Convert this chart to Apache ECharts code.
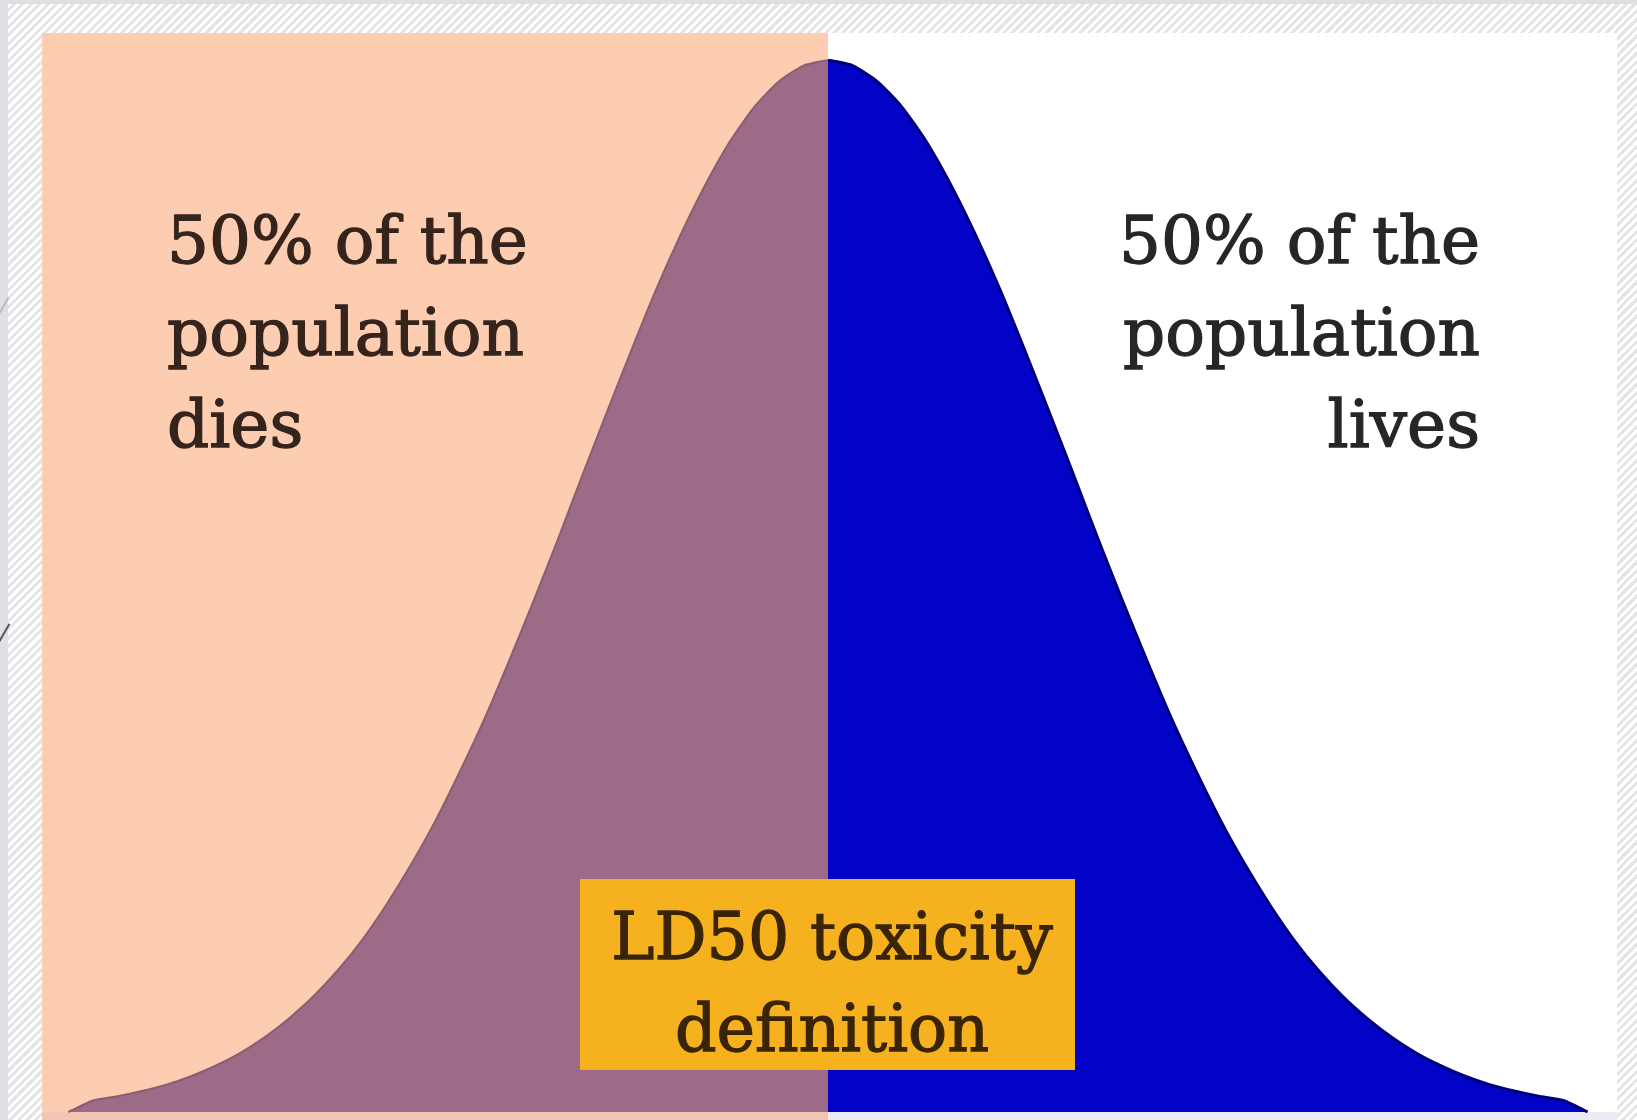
<!DOCTYPE html>
<html>
<head>
<meta charset="utf-8">
<title>LD50 toxicity definition</title>
<script src="https://cdn.jsdelivr.net/npm/echarts@6/dist/echarts.min.js"></script>
<style>
  html, body { margin: 0; padding: 0; width: 1637px; height: 1120px; overflow: hidden; background: #dfe0e4; }
  #frame {
    position: absolute; left: 8px; top: 4px; right: 0; bottom: 0;
    background: repeating-linear-gradient(135deg, #ffffff 0 3px, #e5e5e8 3px 6px);
  }
  #panel { position: absolute; left: 42px; top: 33px; width: 1575px; height: 1087px; background: #ffffff; }
  #strip-left { position: absolute; left: 42px; top: 1112px; width: 786px; height: 8px; background: #f2c4b4; }
  #strip-right { position: absolute; left: 828px; top: 1112px; width: 789px; height: 8px; background: #ecebf6; }
  #chart { position: absolute; left: 0; top: 0; width: 1637px; height: 1120px; }
  .slash { position: absolute; left: 0; width: 2px; background: #b9bbc2; transform: rotate(30deg); }
</style>
</head>
<body>
<div id="frame"></div>
<div id="panel"></div>
<div id="strip-left"></div>
<div id="strip-right"></div>
<div class="slash" style="top:296px;height:22px;left:2px;"></div>
<div class="slash" style="top:622px;height:26px;left:2px;background:#555860;"></div>
<div id="chart"></div>
<script>
// Dose in standard deviations from the LD50 point (x = 0)
const dosePositions = [
  -3.1, -3.0, -2.9, -2.8, -2.7, -2.6, -2.5, -2.4, -2.3, -2.2, -2.1,
  -2.0, -1.9, -1.8, -1.7, -1.6, -1.5, -1.4, -1.3, -1.2, -1.1,
  -1.0, -0.9, -0.8, -0.7, -0.6, -0.5, -0.4, -0.3, -0.2, -0.1,
  0.0,
  0.1, 0.2, 0.3, 0.4, 0.5, 0.6, 0.7, 0.8, 0.9, 1.0,
  1.1, 1.2, 1.3, 1.4, 1.5, 1.6, 1.7, 1.8, 1.9, 2.0,
  2.1, 2.2, 2.3, 2.4, 2.5, 2.6, 2.7, 2.8, 2.9, 3.0, 3.1
];
// Relative share of the population responding at each dose (peak = 1)
const responseHeights = [
  0.000, 0.011, 0.015, 0.020, 0.026, 0.034, 0.044, 0.056, 0.071, 0.089, 0.110,
  0.135, 0.164, 0.198, 0.236, 0.278, 0.325, 0.375, 0.430, 0.487, 0.546,
  0.607, 0.667, 0.726, 0.783, 0.835, 0.882, 0.923, 0.956, 0.980, 0.995,
  1.000,
  0.995, 0.980, 0.956, 0.923, 0.882, 0.835, 0.783, 0.726, 0.667, 0.607,
  0.546, 0.487, 0.430, 0.375, 0.325, 0.278, 0.236, 0.198, 0.164, 0.135,
  0.110, 0.089, 0.071, 0.056, 0.044, 0.034, 0.026, 0.020, 0.015, 0.011, 0.000
];
const ld50Dose = 0;
const doseMin = -3.208;
const doseMax = 3.22;
const heightMax = 1.026;
const diesLines = ['50% of the', 'population', 'dies'];
const livesLines = ['50% of the', 'population', 'lives'];
const boxLines = ['LD50 toxicity', 'definition'];

const pairs = dosePositions.map((d, i) => [d, responseHeights[i]]);
const diesSide = pairs.filter(p => p[0] <= ld50Dose);
const livesSide = pairs.filter(p => p[0] >= ld50Dose);

const serif = '"DejaVu Serif", "Liberation Serif", serif';
const lineStep = 92;

function lineTexts(lines, x, firstY, align, color, size) {
  return lines.map((t, i) => ({
    type: 'text',
    x: x,
    y: firstY + i * lineStep,
    style: {
      text: t,
      font: size + 'px ' + serif,
      fill: color,
      stroke: color,
      lineWidth: 1.3,
      align: align,
      verticalAlign: 'middle'
    },
    z: 50
  }));
}

const chart = echarts.init(document.getElementById('chart'), null, { renderer: 'canvas' });
chart.setOption({
  backgroundColor: 'transparent',
  animation: false,
  grid: { left: 42, right: 20, top: 33, bottom: 8 },
  xAxis: { type: 'value', min: doseMin, max: doseMax, show: false },
  yAxis: { type: 'value', min: 0, max: heightMax, show: false },
  series: [
    {
      name: 'dies',
      type: 'line',
      data: diesSide,
      smooth: 0.2,
      symbol: 'none',
      lineStyle: { color: '#8c5c74', width: 2, join: 'round' },
      areaStyle: { color: '#9b6b87', opacity: 1 },
      markArea: {
        silent: true,
        itemStyle: { color: '#fccdb0' },
        data: [[{ xAxis: doseMin, yAxis: heightMax }, { xAxis: ld50Dose, yAxis: 0 }]]
      },
      z: 3
    },
    {
      name: 'lives',
      type: 'line',
      data: livesSide,
      smooth: 0.2,
      symbol: 'none',
      lineStyle: { color: '#00007a', width: 3, join: 'round' },
      areaStyle: { color: '#0303c8', opacity: 1 },
      z: 3
    }
  ],
  graphic: [
    ...lineTexts(diesLines, 167, 246, 'left', '#35241c', 66),
    ...lineTexts(livesLines, 1480, 246, 'right', '#262626', 66),
    {
      type: 'rect',
      shape: { x: 580, y: 879, width: 495, height: 191 },
      style: { fill: '#f6b21e' },
      z: 40
    },
    ...lineTexts(boxLines, 832, 942, 'center', '#3a2407', 65)
  ]
});
</script>
</body>
</html>
